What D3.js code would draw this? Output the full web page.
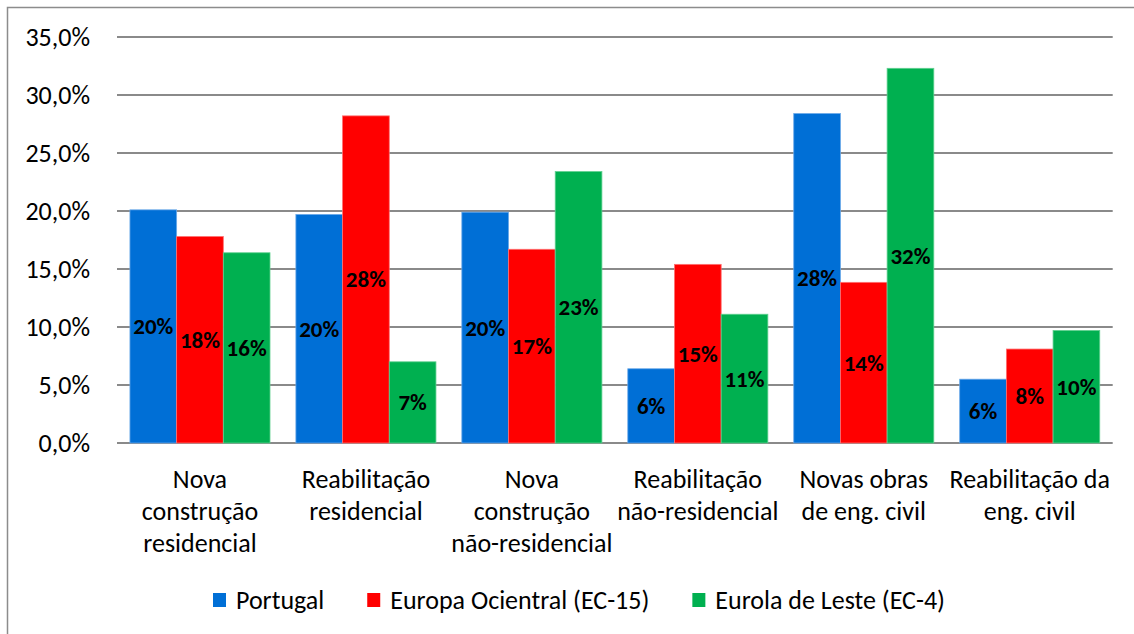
<!DOCTYPE html>
<html lang="pt">
<head>
    <meta charset="UTF-8">
    <title>Construção por segmento</title>
    <style>
        body { margin: 0; background: #fff; }
        svg { display: block; font-family: Carlito, Calibri, Lato, sans-serif; }
    </style>
</head>
<body>
    <svg id="chart" width="1134" height="634"></svg>
    <script src="https://d3js.org/d3.v7.min.js"></script>
    <script>
        var categories = [
            "Nova\nconstrução\nresidencial",
            "Reabilitação\nresidencial",
            "Nova\nconstrução\nnão-residencial",
            "Reabilitação\nnão-residencial",
            "Novas obras\nde eng. civil",
            "Reabilitação da\neng. civil"
        ];
        var seriesNames = ["Portugal", "Europa Ocientral (EC-15)", "Eurola de Leste (EC-4)"];
        var portugal = [20.1, 19.7, 19.9, 6.4, 28.4, 5.5];
        var europaOcidental = [17.8, 28.2, 16.7, 15.4, 13.85, 8.1];
        var europaLeste = [16.4, 7.0, 23.4, 11.1, 32.3, 9.7];
        var yTicks = [0, 5, 10, 15, 20, 25, 30, 35];

        var seriesValues = [portugal, europaOcidental, europaLeste];
        var colors = ["#006FD6", "#FF0000", "#00B050"];
        var strokes = ["#6aa8e8", "#ff7070", "#60d090"];

        var svg = d3.select("#chart");

        // outer frame (only left and top visible)
        svg.append("path")
            .attr("d", "M7.5,640 L7.5,7.5 L1140,7.5")
            .attr("fill", "none")
            .attr("stroke", "#8c8c8c")
            .attr("stroke-width", 1.5);

        var plotLeft = 117, plotRight = 1112.7, plotTop = 37, plotBottom = 443;

        var y = d3.scaleLinear().domain([0, 35]).range([plotBottom, plotTop]);
        var x0 = d3.scaleBand().domain(categories).range([plotLeft, plotRight])
            .paddingInner(0.156).paddingOuter(0.078);
        var x1 = d3.scaleBand().domain(seriesNames).range([0, x0.bandwidth()]);

        var fmtTick = function(d) { return d3.format(".1f")(d).replace(".", ",") + "%"; };

        // gridlines
        svg.append("g")
            .selectAll("line")
            .data(yTicks)
            .enter().append("line")
            .attr("x1", plotLeft)
            .attr("x2", plotRight)
            .attr("y1", function(d) { return y(d); })
            .attr("y2", function(d) { return y(d); })
            .attr("stroke", "#8a8a8a")
            .attr("stroke-width", 2);

        // y tick labels
        svg.append("g")
            .selectAll("text")
            .data(yTicks)
            .enter().append("text")
            .attr("x", 90)
            .attr("y", function(d) { return y(d); })
            .attr("dy", "0.35em")
            .attr("text-anchor", "end")
            .style("font-size", "26px")
            .attr("fill", "#000")
            .text(fmtTick);

        // bars
        var groups = svg.append("g")
            .selectAll("g")
            .data(categories)
            .enter().append("g")
            .attr("transform", function(d) { return "translate(" + x0(d) + ",0)"; });

        function rows(d, i) {
            return seriesNames.map(function(s, j) { return { s: s, j: j, v: seriesValues[j][i] }; });
        }

        groups.selectAll("rect")
            .data(rows)
            .enter().append("rect")
            .attr("x", function(d) { return x1(d.s); })
            .attr("y", function(d) { return y(d.v); })
            .attr("width", x1.bandwidth())
            .attr("height", function(d) { return y(0) - y(d.v); })
            .attr("fill", function(d) { return colors[d.j]; })
            .attr("stroke", function(d) { return strokes[d.j]; })
            .attr("stroke-width", 0.8);

        // value labels, centred in each bar
        groups.selectAll("text")
            .data(rows)
            .enter().append("text")
            .attr("x", function(d) { return x1(d.s) + x1.bandwidth() / 2; })
            .attr("y", function(d) { return y(d.v / 2); })
            .attr("dy", "0.35em")
            .attr("text-anchor", "middle")
            .style("font-size", "23px")
            .style("font-weight", "bold")
            .attr("fill", "#000")
            .text(function(d) { return Math.round(d.v) + "%"; });

        // category labels
        var catLabels = svg.append("g")
            .selectAll("text")
            .data(categories)
            .enter().append("text")
            .attr("text-anchor", "middle")
            .style("font-size", "26px")
            .attr("fill", "#000");

        catLabels.each(function(d) {
            var t = d3.select(this);
            var cx = x0(d) + x0.bandwidth() / 2;
            d.split("\n").forEach(function(line, k) {
                t.append("tspan")
                    .attr("x", cx)
                    .attr("y", 479 + k * 32)
                    .attr("dy", "0.35em")
                    .text(line);
            });
        });

        // legend
        var legend = svg.append("g");
        var lx = 213;
        seriesNames.forEach(function(name, j) {
            legend.append("rect")
                .attr("x", lx)
                .attr("y", 593)
                .attr("width", 13)
                .attr("height", 14)
                .attr("fill", colors[j]);
            var txt = legend.append("text")
                .attr("x", lx + 23)
                .attr("y", 600)
                .attr("dy", "0.35em")
                .style("font-size", "26px")
                .attr("fill", "#000")
                .text(name);
            lx = lx + 23 + txt.node().getComputedTextLength() + 43;
        });
    </script>
</body>
</html>
